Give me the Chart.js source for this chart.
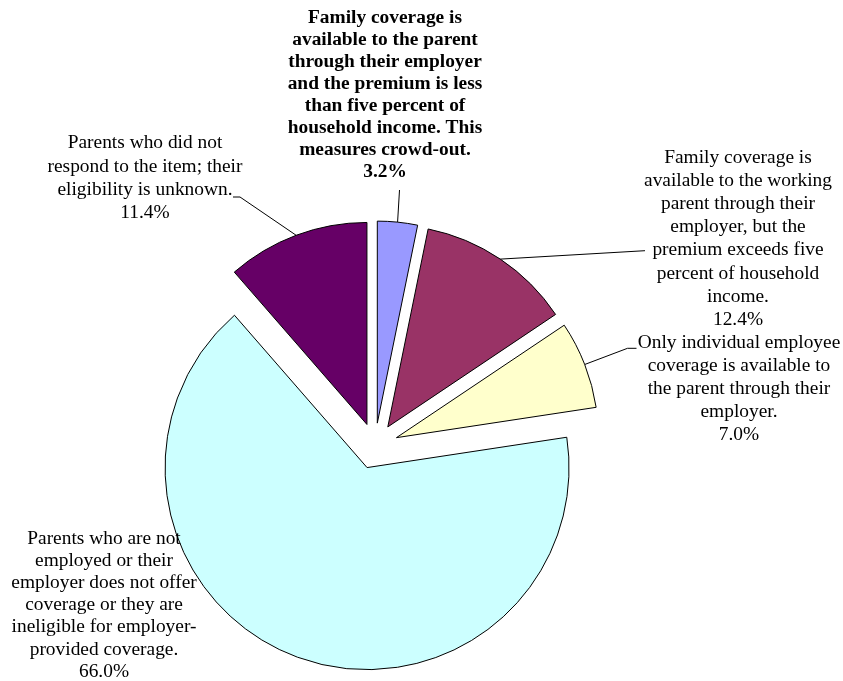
<!DOCTYPE html>
<html>
<head>
<meta charset="utf-8">
<title>Parent employer coverage</title>
<script src="https://cdn.jsdelivr.net/npm/chart.js@4/dist/chart.umd.min.js"></script>
<style>
    html, body { margin: 0; padding: 0; background: #fff; }
    #chart { display: block; }
</style>
</head>
<body>
<canvas id="chart" width="843" height="681"></canvas>
<script>
// Slice labels, already wrapped the way they are printed
const categories = [
    ['Family coverage is', 'available to the parent', 'through their employer', 'and the premium is less', 'than five percent of', 'household income. This', 'measures crowd-out.'],
    ['Family coverage is', 'available to the working', 'parent through their', 'employer, but the', 'premium exceeds five', 'percent of household', 'income.'],
    ['Only individual employee', 'coverage is available to', 'the parent through their', 'employer.'],
    ['Parents who are not', 'employed or their', 'employer does not offer', 'coverage or they are', 'ineligible for employer-', 'provided coverage.'],
    ['Parents who did not', 'respond to the item; their', 'eligibility is unknown.']
];
const shares = [3.2, 12.4, 7.0, 66.0, 11.4];
const sliceColors = ['#9999FF', '#993366', '#FFFFCC', '#CCFFFF', '#660066'];

// how far every slice is pulled out from the centre
const EXPLODE = 23;

// label blocks: centre x, first baseline, line height, and the leader bend points
const labelLayout = [
    { x: 385, y: 22.7, lh: 22.0, bold: true, leader: [[399.5, 190]] },
    { x: 738, y: 163, lh: 23.1, leader: [[645, 250.7]] },
    { x: 739, y: 348.3, lh: 22.9, leader: [[627.5, 348.3], [636.5, 348.3]] },
    { x: 104, y: 544, lh: 22.1, leader: null },
    { x: 145, y: 148.3, lh: 23.3, leader: [[240, 197], [233, 197]] }
];

// Arc that draws itself shifted outward along its middle angle
class ExplodedArc extends Chart.ArcElement {
    static id = 'explodedArc';
    draw(ctx) {
        const mid = (this.startAngle + this.endAngle) / 2;
        ctx.save();
        ctx.translate(Math.cos(mid) * EXPLODE, Math.sin(mid) * EXPLODE);
        super.draw(ctx);
        ctx.restore();
    }
}

class ExplodedPieController extends Chart.PieController {
    static id = 'explodedPie';
    static defaults = { dataElementType: 'explodedArc' };
}

Chart.register(ExplodedArc, ExplodedPieController);

const sliceLabels = {
    id: 'sliceLabels',
    afterDatasetsDraw(chart) {
        const ctx = chart.ctx;
        const arcs = chart.getDatasetMeta(0).data;
        ctx.save();
        ctx.fillStyle = '#000';
        ctx.strokeStyle = '#000';
        ctx.lineWidth = 1;
        ctx.textAlign = 'center';
        ctx.textBaseline = 'alphabetic';

        arcs.forEach(function(arc, i) {
            const box = labelLayout[i];
            const lines = categories[i].concat([shares[i].toFixed(1) + '%']);

            if (box.leader) {
                const mid = (arc.startAngle + arc.endAngle) / 2;
                const dist = EXPLODE + arc.outerRadius;
                ctx.beginPath();
                ctx.moveTo(arc.x + Math.cos(mid) * dist, arc.y + Math.sin(mid) * dist);
                box.leader.forEach(p => ctx.lineTo(p[0], p[1]));
                ctx.stroke();
            }

            ctx.font = (box.bold ? 'bold ' : '') + '19.4px "Liberation Serif", "Times New Roman", serif';
            lines.forEach(function(line, j) {
                ctx.fillText(line, box.x, box.y + j * box.lh);
            });
        });
        ctx.restore();
    }
};

new Chart(document.getElementById('chart'), {
    type: 'explodedPie',
    data: {
        labels: categories,
        datasets: [{
            data: shares,
            backgroundColor: sliceColors,
            borderColor: '#000',
            borderWidth: 1,
            borderJoinStyle: 'miter',
            radius: 202
        }]
    },
    options: {
        responsive: false,
        animation: false,
        events: [],
        layout: {
            padding: { left: 0, right: 93, top: 211, bottom: 0 }
        },
        plugins: {
            legend: { display: false },
            tooltip: { enabled: false }
        }
    },
    plugins: [sliceLabels]
});
</script>
</body>
</html>
